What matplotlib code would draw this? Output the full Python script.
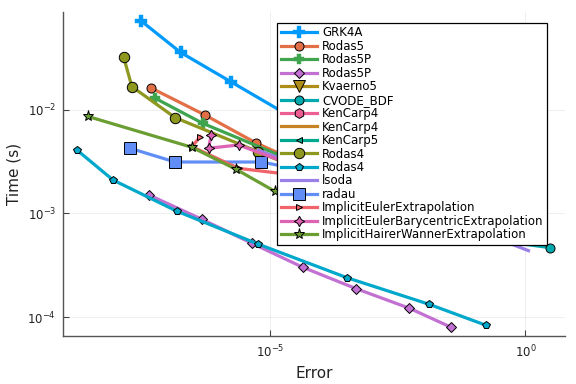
import matplotlib
matplotlib.use("Agg")
import matplotlib.pyplot as plt
from matplotlib.ticker import LogFormatterMathtext, NullLocator

# work-precision data: (error, time in s) for each solver
grk4a_err = [2.92e-8, 1.72e-7, 1.67e-6, 6.0e-5]
grk4a_t = [0.0716, 0.0357, 0.0186, 0.00667]

rodas5_err = [4.44e-8, 5.18e-7, 5.08e-6, 9.44e-5]
rodas5_t = [0.0163, 0.00889, 0.00481, 0.00251]

rodas5p_err = [5.48e-8, 4.65e-7, 6.0e-5]
rodas5p_t = [0.0129, 0.00740, 0.00274]

rodas5p2_err = [4.19e-8, 4.52e-7, 4.32e-6, 4.32e-5, 4.79e-4, 5.25e-3, 0.0349]
rodas5p2_t = [1.50e-3, 8.77e-4, 5.15e-4, 3.02e-4, 1.88e-4, 1.22e-4, 7.98e-5]

kvaerno5_err = [3.82e-5, 1.42e-3, 0.0525]
kvaerno5_t = [3.27e-3, 1.68e-3, 1.05e-3]

cvode_err = [3.82e-5, 3.66e-4, 3.05]
cvode_t = [1.35e-3, 8.63e-4, 4.67e-4]

kencarp4_err = [6.0e-5, 3.49e-3, 0.129]
kencarp4_t = [2.93e-3, 1.35e-3, 8.9e-4]

kencarp4b_err = [7.52e-5, 5.48e-3, 0.203]
kencarp4b_t = [2.62e-3, 1.21e-3, 8.4e-4]

kencarp5_err = [4.79e-5, 2.79e-3, 0.0824]
kencarp5_t = [3.27e-3, 1.51e-3, 9.3e-4]

rodas4_err = [1.31e-8, 1.91e-8, 1.35e-7, 5.66e-6, 1.48e-4]
rodas4_t = [0.0324, 0.0167, 8.38e-3, 3.94e-3, 2.01e-3]

rodas4b_err = [1.60e-9, 8.13e-9, 1.46e-7, 5.66e-6, 3.15e-4, 0.0129, 0.169]
rodas4b_t = [4.08e-3, 2.10e-3, 1.05e-3, 5.07e-4, 2.40e-4, 1.33e-4, 8.34e-5]

lsoda_err = [5.74e-6, 3.49e-3, 0.129, 1.15]
lsoda_t = [4.08e-3, 1.21e-3, 6.62e-4, 4.37e-4]

radau_err = [1.75e-8, 1.35e-7, 6.58e-6, 1.48e-4]
radau_t = [4.25e-3, 3.13e-3, 3.13e-3, 2.34e-3]

iee_err = [4.19e-7, 2.88e-7, 2.36e-6, 9.44e-5]
iee_t = [5.50e-3, 4.40e-3, 2.72e-3, 2.19e-3]

iebe_err = [6.87e-7, 6.08e-7, 2.36e-6, 9.44e-5]
iebe_t = [5.70e-3, 4.25e-3, 4.57e-3, 2.34e-3]

ihwe_err = [2.58e-9, 2.88e-7, 2.12e-6, 1.20e-5, 2.33e-4]
ihwe_t = [8.63e-3, 4.34e-3, 2.66e-3, 1.64e-3, 7.55e-4]

names = ['GRK4A', 'Rodas5', 'Rodas5P', 'Rodas5P', 'Kvaerno5', 'CVODE_BDF',
         'KenCarp4', 'KenCarp4', 'KenCarp5', 'Rodas4', 'Rodas4', 'lsoda',
         'radau', 'ImplicitEulerExtrapolation',
         'ImplicitEulerBarycentricExtrapolation',
         'ImplicitHairerWannerExtrapolation']
errs = [grk4a_err, rodas5_err, rodas5p_err, rodas5p2_err, kvaerno5_err, cvode_err,
        kencarp4_err, kencarp4b_err, kencarp5_err, rodas4_err, rodas4b_err,
        lsoda_err, radau_err, iee_err, iebe_err, ihwe_err]
times = [grk4a_t, rodas5_t, rodas5p_t, rodas5p2_t, kvaerno5_t, cvode_t,
         kencarp4_t, kencarp4b_t, kencarp5_t, rodas4_t, rodas4b_t,
         lsoda_t, radau_t, iee_t, iebe_t, ihwe_t]

# Plots.jl default palette, markers and sizes
colors = ['#009AFA', '#E36F47', '#3EA44E', '#C271D2', '#AC8E18', '#00A9AD',
          '#ED5E93', '#C68225', '#00A98D', '#8E971E', '#00A8CB', '#9B7FE9',
          '#618DF6', '#F0636B', '#DD64B5', '#6B9E32']
markers = ['P', 'o', 'P', 'D', 'v', 'o', 'h', None, '<', 'o', 'p', None,
           's', '>', (4, 1, 0), '*']
msizes = [8, 6.5, 7, 5, 8, 6.5, 7, 0, 4.5, 7.5, 6, 0, 8, 4.5, 7.5, 8]

plt.rcParams['font.family'] = 'DejaVu Sans'
fig = plt.figure(figsize=(5.76, 3.84), dpi=100)
ax = fig.add_axes([0.1094, 0.1237, 0.8716, 0.8458])

for i in range(len(names)):
    m = markers[i]
    plus = m == 'P'
    ax.plot(errs[i], times[i], color=colors[i], lw=2.3, marker=m,
            markersize=msizes[i], markerfacecolor=colors[i],
            markeredgecolor=colors[i] if plus else 'black',
            markeredgewidth=0.3 if plus else 0.7, label=names[i])

ax.set_xscale('log')
ax.set_yscale('log')
ax.set_xlim(10**-9.07, 10**0.778)
ax.set_ylim(10**-4.187, 10**-1.055)
ax.set_xticks([1e-5, 1])
ax.set_yticks([1e-4, 1e-3, 1e-2])
ax.xaxis.set_major_formatter(LogFormatterMathtext())
ax.yaxis.set_major_formatter(LogFormatterMathtext())
ax.xaxis.set_minor_locator(NullLocator())
ax.yaxis.set_minor_locator(NullLocator())
ax.tick_params(direction='in', length=4, width=0.8, color='#444444',
               labelsize=8.5, labelcolor='#222222', pad=5)

# axes style: only left and bottom, faint grid
for s in ['top', 'right']:
    ax.spines[s].set_visible(False)
for s in ['left', 'bottom']:
    ax.spines[s].set_color('#555555')
    ax.spines[s].set_linewidth(1.0)
ax.grid(True, color='black', alpha=0.08, lw=0.6)

ax.set_xlabel('Error', fontsize=11, color='#222222')
ax.set_ylabel('Time (s)', fontsize=11, color='#222222')

leg = ax.legend(loc='upper right', bbox_to_anchor=(0.964, 0.966), borderaxespad=0,
                fontsize=8.5, fancybox=False, framealpha=1, edgecolor='black',
                handlelength=3.1, handletextpad=0.4, labelspacing=0.04,
                borderpad=0.3, numpoints=1)
leg.get_frame().set_linewidth(0.9)

plt.savefig('out.png', dpi=100)
